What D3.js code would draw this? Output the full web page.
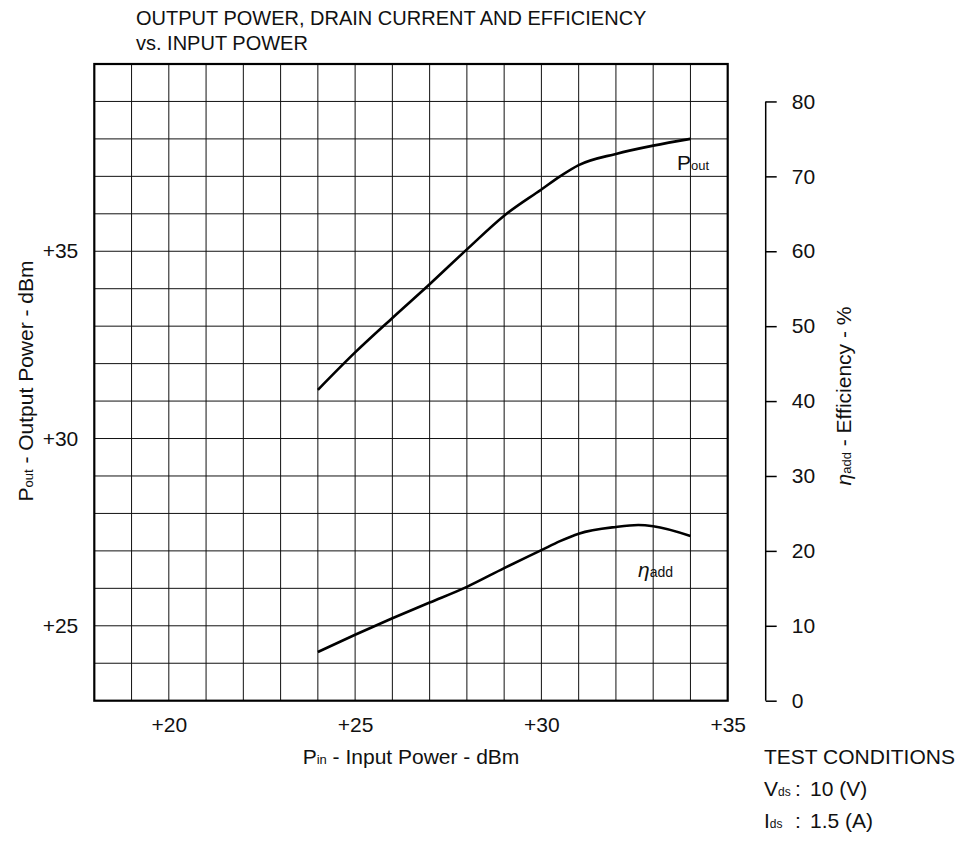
<!DOCTYPE html>
<html lang="en">
<head>
    <meta charset="UTF-8">
    <title>Output Power, Drain Current and Efficiency vs. Input Power</title>
    <script src="https://d3js.org/d3.v7.min.js"></script>
    <style>
        body { margin: 0; background: #fff; }
        svg text { font-family: "Liberation Sans", Arial, sans-serif; font-size: 21px; fill: #111; }
        svg text.title { font-size: 20px; }
        .grid line { stroke: #111; stroke-width: 1; }
        .curve { fill: none; stroke: #000; stroke-width: 2.6; }
        .sub { font-size: 13px; }
    </style>
</head>
<body>
    <svg id="chart" width="964" height="846"></svg>

    <script>
        // Data
        const pinTicks = [20, 25, 30, 35];
        const poutTicks = [25, 30, 35];
        const effTicks = [0, 10, 20, 30, 40, 50, 60, 70, 80];

        const poutPin = [24, 25, 26, 27, 28, 29, 30, 30.5, 31, 32, 33, 34];
        const poutDbm = [31.3, 32.3, 33.22, 34.12, 35.05, 35.95, 36.65, 37.0, 37.3, 37.6, 37.82, 38.0];

        const effPin = [24, 25, 26, 27, 28, 29, 30, 30.5, 31, 32, 32.6, 33, 34];
        const effPct = [6.5, 8.8, 11.0, 13.1, 15.2, 17.7, 20.1, 21.3, 22.3, 23.2, 23.45, 23.3, 22.0];

        const svg = d3.select('#chart');

        // plot box
        const box = { left: 94.3, right: 727.7, top: 64, bottom: 700.7 };

        const x = d3.scaleLinear().domain([18, 35]).range([box.left, box.right]);
        const yL = d3.scaleLinear().domain([23, 40]).range([box.bottom, box.top]);
        const yR = d3.scaleLinear().domain([0, 85]).range([box.bottom, box.top]);

        // grid: one cell per dBm
        const grid = svg.append('g').attr('class', 'grid');
        grid.selectAll('.v')
            .data(d3.range(19, 35))
            .join('line')
            .attr('x1', d => x(d)).attr('x2', d => x(d))
            .attr('y1', box.top).attr('y2', box.bottom);
        grid.selectAll('.h')
            .data(d3.range(24, 40))
            .join('line')
            .attr('x1', box.left).attr('x2', box.right)
            .attr('y1', d => yL(d)).attr('y2', d => yL(d));

        // frame
        svg.append('rect')
            .attr('x', box.left).attr('y', box.top)
            .attr('width', box.right - box.left).attr('height', box.bottom - box.top)
            .attr('fill', 'none').attr('stroke', '#000').attr('stroke-width', 2.2);

        // bottom tick labels
        const xAxis = svg.append('g')
            .attr('transform', `translate(0,${box.bottom})`)
            .call(d3.axisBottom(x).tickValues(pinTicks).tickSize(0).tickPadding(16).tickFormat(d => '+' + d));
        xAxis.select('.domain').remove();

        // left tick labels
        const yAxis = svg.append('g')
            .attr('transform', `translate(${box.left},0)`)
            .call(d3.axisLeft(yL).tickValues(poutTicks).tickSize(0).tickPadding(16).tickFormat(d => '+' + d));
        yAxis.select('.domain').remove();

        // right efficiency axis, detached from the box
        const rAxis = svg.append('g')
            .attr('transform', 'translate(765.7,0)')
            .call(d3.axisRight(yR).tickValues(effTicks).tickSize(11).tickSizeOuter(0).tickPadding(15));
        rAxis.select('.domain')
            .attr('d', `M0,${yR(80)}V${yR(0)}`)
            .attr('stroke', '#000').attr('stroke-width', 1.5);
        rAxis.selectAll('.tick line').attr('stroke', '#000').attr('stroke-width', 1.5);

        svg.selectAll('.tick text').style('font-size', '21px').attr('fill', '#111');

        // curves
        const line = d3.line().curve(d3.curveMonotoneX);
        svg.append('path')
            .attr('class', 'curve')
            .attr('d', line(poutPin.map((p, i) => [x(p), yL(poutDbm[i])])));
        svg.append('path')
            .attr('class', 'curve')
            .attr('d', line(effPin.map((p, i) => [x(p), yR(effPct[i])])));

        // curve labels
        const poutLbl = svg.append('text').attr('x', 677).attr('y', 170);
        poutLbl.append('tspan').text('P');
        poutLbl.append('tspan').attr('class', 'sub').text('out');

        const effLbl = svg.append('text').attr('x', 638).attr('y', 577);
        effLbl.append('tspan').style('font-style', 'italic').text('η');
        effLbl.append('tspan').attr('class', 'sub').style('font-size', '14px').text('add');

        // title
        svg.append('text').attr('class', 'title').attr('x', 136).attr('y', 25).text('OUTPUT POWER, DRAIN CURRENT AND EFFICIENCY');
        svg.append('text').attr('class', 'title').attr('x', 136).attr('y', 50).text('vs. INPUT POWER');

        // axis titles
        const xt = svg.append('text')
            .attr('x', 411).attr('y', 764)
            .attr('text-anchor', 'middle');
        xt.append('tspan').text('P');
        xt.append('tspan').attr('class', 'sub').text('in');
        xt.append('tspan').text(' - Input Power - dBm');

        const ylt = svg.append('text')
            .attr('transform', `translate(33,381) rotate(-90)`)
            .attr('text-anchor', 'middle');
        ylt.append('tspan').text('P');
        ylt.append('tspan').attr('class', 'sub').text('out');
        ylt.append('tspan').text(' - Output Power - dBm');

        const yrt = svg.append('text')
            .attr('transform', `translate(851,396) rotate(-90)`)
            .attr('text-anchor', 'middle');
        yrt.append('tspan').style('font-style', 'italic').text('η');
        yrt.append('tspan').attr('class', 'sub').text('add');
        yrt.append('tspan').text(' - Efficiency - %');

        // test conditions
        svg.append('text').attr('x', 764).attr('y', 764).text('TEST CONDITIONS');

        const vds = svg.append('text').attr('x', 764).attr('y', 796);
        vds.append('tspan').text('V');
        vds.append('tspan').attr('class', 'sub').style('font-size', '12px').text('ds');
        svg.append('text').attr('x', 795).attr('y', 796).text(':');
        svg.append('text').attr('x', 810).attr('y', 796).text('10 (V)');

        const ids = svg.append('text').attr('x', 764).attr('y', 828);
        ids.append('tspan').text('I');
        ids.append('tspan').attr('class', 'sub').style('font-size', '12px').text('ds');
        svg.append('text').attr('x', 795).attr('y', 828).text(':');
        svg.append('text').attr('x', 810).attr('y', 828).text('1.5 (A)');
    </script>
</body>
</html>
